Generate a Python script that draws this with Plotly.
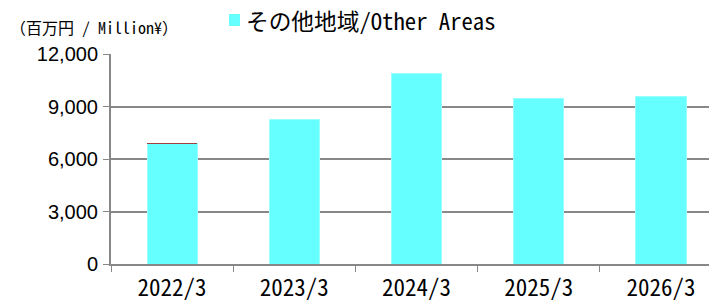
import plotly.graph_objects as go

categories = ["2022/3", "2023/3", "2024/3", "2025/3", "2026/3"]
other_areas = [6900, 8230, 10900, 9480, 9600]
thin_top = [8, 0, 0, 0, 0]
series_name = "その他地域/Other Areas"
y_ticks = [0, 3000, 6000, 9000, 12000]
y_tick_labels = ["0", "3,000", "6,000", "9,000", "12,000"]

MONO = "Noto Sans Mono CJK JP, Noto Sans CJK JP, monospace"

fig = go.Figure()
fig.add_trace(go.Bar(
    x=categories, y=other_areas, name=series_name,
    marker=dict(color="#66FFFF", line=dict(color="#99FFFF", width=1)),
))
fig.add_trace(go.Bar(
    x=categories, y=thin_top, name="", showlegend=False,
    marker=dict(color="#A0403C", line=dict(width=0)),
))

fig.update_layout(
    width=709, height=302,
    barmode="stack", bargap=0.59,
    margin=dict(l=111, r=0, t=54, b=38, autoexpand=False),
    paper_bgcolor="white", plot_bgcolor="white",
    showlegend=False,
    font=dict(family="Arial, Liberation Sans", color="black"),
)
fig.update_xaxes(
    type="category", range=[-0.5, 4.393],
    tickson="boundaries", ticks="outside", ticklen=6, tickcolor="#888888",
    showline=True, linecolor="#888888", linewidth=2,
    showgrid=False, ticklabelstandoff=2,
    tickfont=dict(family=MONO, size=23, color="black"),
)
fig.update_yaxes(
    range=[0, 12000], tickvals=y_ticks, ticktext=y_tick_labels,
    ticks="outside", ticklen=6, tickcolor="#888888",
    showline=True, linecolor="#888888", linewidth=2,
    showgrid=True, gridcolor="#888888", gridwidth=1.5,
    zeroline=False, ticklabelstandoff=1,
    tickfont=dict(family="Arial, Liberation Sans", size=20, color="black"),
)
# legend swatch + label
fig.add_shape(type="rect", xref="paper", yref="paper",
              x0=(229 - 111) / 598, x1=(240 - 111) / 598,
              y0=(264 - 26) / 210, y1=(264 - 14) / 210,
              fillcolor="#66FFFF", line=dict(width=0))
fig.add_annotation(
    text=series_name, xref="paper", yref="paper",
    x=(244 - 111) / 598, y=(264 - 21) / 210, xanchor="left", yanchor="middle",
    showarrow=False, font=dict(family=MONO, size=22.7, color="black"),
)
fig.add_annotation(
    text="（百万円 / Million¥）", xref="paper", yref="paper",
    x=(8 - 111) / 598, y=(264 - 27) / 210, xanchor="left", yanchor="middle",
    showarrow=False, font=dict(family=MONO, size=16, color="black"),
)
fig.write_html("out.html", config={"displayModeBar": False},
               post_script="document.body.style.margin='0';document.body.style.overflow='hidden';")
